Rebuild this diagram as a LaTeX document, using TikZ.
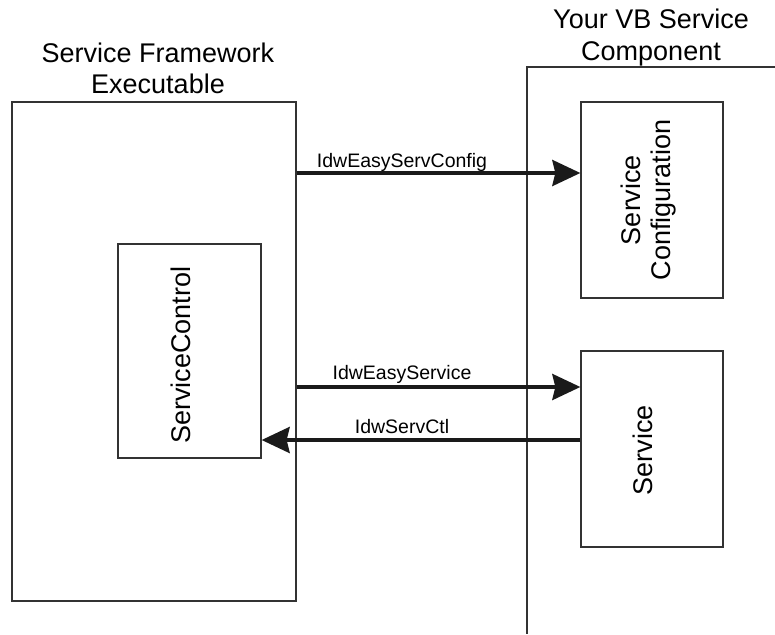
\documentclass[tikz,border=0pt]{standalone}
\usepackage{fontspec}
\setmainfont{Liberation Sans}
\usetikzlibrary{arrows.meta}
\definecolor{boxgray}{HTML}{333333}
\definecolor{arrowblack}{HTML}{1A1A1A}
\begin{document}
\begin{tikzpicture}[x=1pt,y=-1pt,
  box/.style={draw=boxgray,line width=1.3pt,inner sep=0pt,fill=none},
  boxline/.style={draw=boxgray,line width=1.2pt},
  title/.style={font=\fontsize{27}{31}\selectfont,inner sep=0pt,anchor=base,text=black},
  boxtext/.style={font=\fontsize{27}{31}\selectfont,inner sep=0pt,anchor=base,rotate=90,text=black},
  lbl/.style={font=\fontsize{19.5}{23}\selectfont,inner sep=0pt,anchor=base,text=black},
  arr/.style={draw=arrowblack,line width=3.6pt,-{Stealth[length=28pt 0,width=26pt 0,inset=3pt 0]}}
]
\path[use as bounding box] (0,0) rectangle (775,634);

% boxes
\node[box,minimum width=284pt,minimum height=499pt] (exe) at (154,351.5) {};
\node[box,minimum width=143pt,minimum height=214pt] (ctl) at (189.5,351) {};
\node[box,minimum width=142pt,minimum height=196pt] (cfg) at (652,200) {};
\node[box,minimum width=142pt,minimum height=196pt] (svc) at (652,449) {};

% component open frame
\coordinate (compTR) at (775,67);
\coordinate (compTL) at (527,67);
\coordinate (compBL) at (527,634);
\draw[boxline] (compTR) -- (compTL) -- (compBL);

% titles
\node[title] (t1a) at (158,63) {Service Framework};
\node[title] (t1b) at (158,93) {Executable};
\node[title] (t2a) at (651,29) {Your VB Service};
\node[title] (t2b) at (651,60) {Component};

% box texts
\node[boxtext] (ctltxt) at (190,355) {ServiceControl};
\node[boxtext] (cfgtxt1) at (640,200) {Service};
\node[boxtext] (cfgtxt2) at (670,200) {Configuration};
\node[boxtext] (svctxt) at (652,450) {Service};

% arrows
\coordinate (ya) at (0,173);
\coordinate (yb) at (0,387);
\coordinate (yc) at (0,440);
\draw[arr] (exe.east |- ya) -- (cfg.west |- ya);
\draw[arr] (exe.east |- yb) -- (svc.west |- yb);
\draw[arr] (svc.west |- yc) -- (ctl.east |- yc);

% labels
\node[lbl] (la) at (402,167) {IdwEasyServConfig};
\node[lbl] (lb) at (402,379) {IdwEasyService};
\node[lbl] (lc) at (402,433) {IdwServCtl};
\end{tikzpicture}
\end{document}
